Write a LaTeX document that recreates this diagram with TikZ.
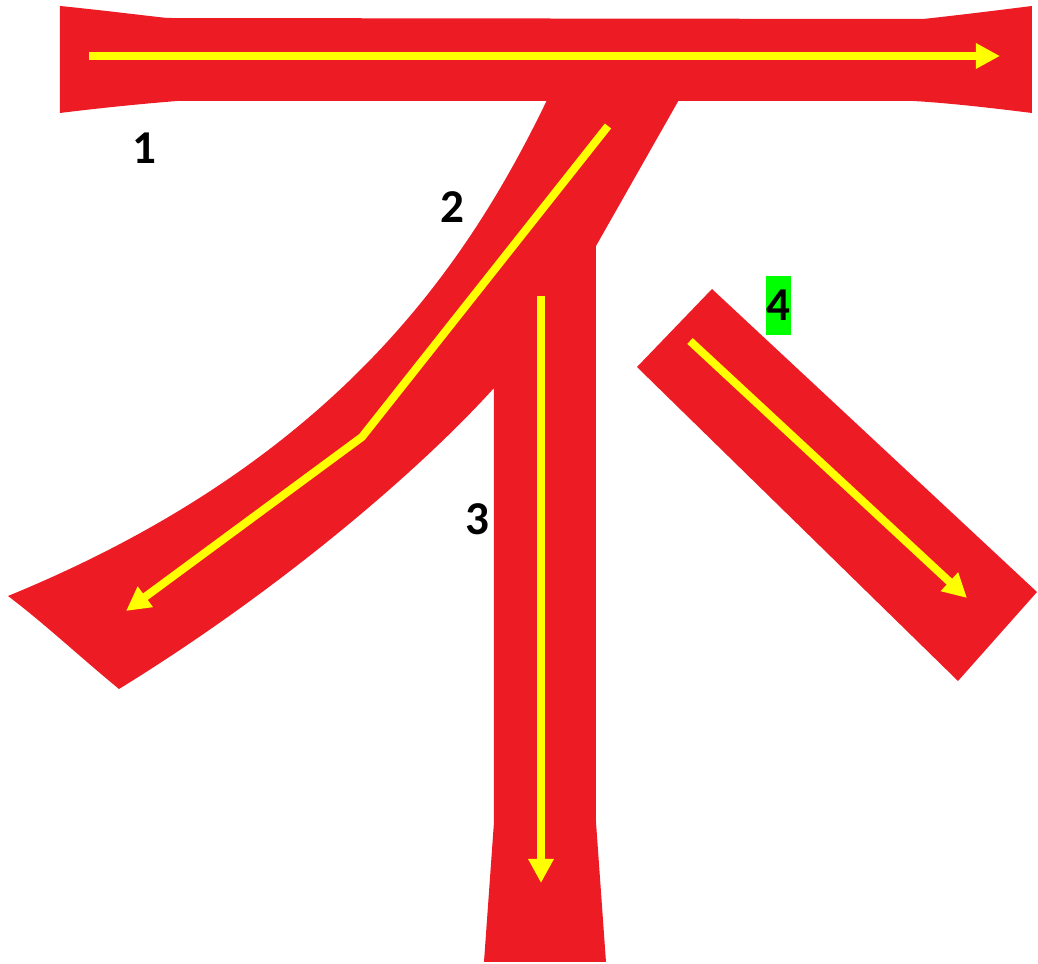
\documentclass[tikz,border=0pt]{standalone}
\usepackage{fontspec}
\setmainfont{Carlito}
\usetikzlibrary{arrows.meta}
\definecolor{strokered}{RGB}{237,28,36}
\definecolor{arrowyellow}{RGB}{255,255,0}
\definecolor{labelgreen}{RGB}{0,255,0}
\tikzset{
  brush/.style={fill=strokered, draw=none},
  guide/.style={draw=arrowyellow, line width=0.08cm, line join=miter,
    -{Triangle[length=0.24cm, width=0.24cm]}},
  numlabel/.style={font=\fontsize{13.4}{16}\selectfont\bfseries, text=black, inner sep=0pt},
  greenlabel/.style={numlabel, fill=labelgreen, minimum width=0.25cm, minimum height=0.59cm}
}
\begin{document}
\begin{tikzpicture}[x=0.01cm, y=-0.01cm]
\useasboundingbox (0,0) rectangle (1038,964);
% stroke 1 (horizontal)
\path[brush] (60,6) .. controls (100,10) and (140,15) .. (167,18) -- (923,19)
  .. controls (960,15) and (1000,10) .. (1032,6) -- (1032,113)
  .. controls (1000,109) and (950,103) .. (913,101) -- (177,101)
  .. controls (140,104) and (100,108) .. (60,113) -- cycle;
% strokes 2 and 3
\path[brush] (548,98) -- (680,98) -- (596,246) -- (596,822) -- (606,962) -- (484,962) -- (494,822) -- (494,388)
  .. controls (420,470) and (280,590) .. (119,689)
  .. controls (80,657) and (45,624) .. (8,596)
  .. controls (340,460) and (470,260) .. (548,98)
  -- cycle;
% stroke 4
\path[brush] (712,289) -- (1037,592) -- (958,681) -- (637,367) -- cycle;
% guide arrows
\coordinate (a1s) at (89,56);
\coordinate (a1e) at (1000,56);
\coordinate (a2s) at (608,126);
\coordinate (a2m) at (362,437);
\coordinate (a2e) at (126,611);
\coordinate (a3s) at (541,296);
\coordinate (a3e) at (541,883);
\coordinate (a4s) at (690,341);
\coordinate (a4e) at (967,598);
\draw[guide] (a1s) -- (a1e);
\draw[guide] (a2s) -- (a2m) -- (a2e);
\draw[guide] (a3s) -- (a3e);
\draw[guide] (a4s) -- (a4e);
% labels
\node[numlabel] (n1) at (144,148) {1};
\node[numlabel] (n2) at (452,207) {2};
\node[numlabel] (n3) at (477,519) {3};
\node[greenlabel] (n4) at (778.5,305.5) {4};
\end{tikzpicture}
\end{document}
